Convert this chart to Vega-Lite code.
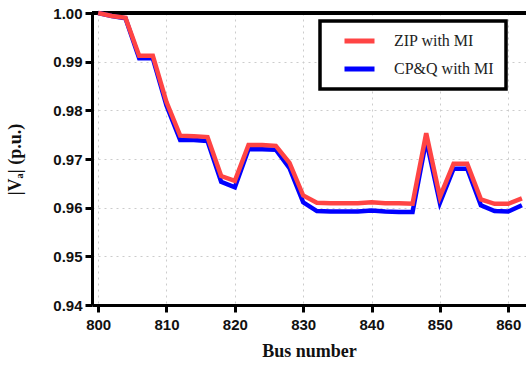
{
  "$schema": "https://vega.github.io/schema/vega-lite/v6.json",
  "width": 434,
  "height": 292,
  "autosize": "none",
  "padding": {"left": 92, "top": 13, "right": 0, "bottom": 60},
  "background": "white",
  "config": {
    "view": {"stroke": null},
    "axis": {
      "domainColor": "black", "domainWidth": 3, "tickColor": "black", "tickWidth": 3, "tickSize": 7,
      "labelFont": "Liberation Sans", "labelFontWeight": "bold", "labelFontSize": 15, "labelColor": "#111",
      "titleFont": "Liberation Serif", "titleFontWeight": "bold", "titleFontSize": 18, "titleColor": "#111",
      "gridColor": "#cccccc", "gridDash": [2, 4], "gridWidth": 1
    }
  },
  "data": {"values": [
    {"bus": 800, "v": 1.0000, "s": "ZIP with MI"},
    {"bus": 802, "v": 0.9994, "s": "ZIP with MI"},
    {"bus": 804, "v": 0.9990, "s": "ZIP with MI"},
    {"bus": 806, "v": 0.9912, "s": "ZIP with MI"},
    {"bus": 808, "v": 0.9912, "s": "ZIP with MI"},
    {"bus": 810, "v": 0.9817, "s": "ZIP with MI"},
    {"bus": 812, "v": 0.9748, "s": "ZIP with MI"},
    {"bus": 814, "v": 0.9747, "s": "ZIP with MI"},
    {"bus": 816, "v": 0.9745, "s": "ZIP with MI"},
    {"bus": 818, "v": 0.9665, "s": "ZIP with MI"},
    {"bus": 820, "v": 0.9655, "s": "ZIP with MI"},
    {"bus": 822, "v": 0.9729, "s": "ZIP with MI"},
    {"bus": 824, "v": 0.9729, "s": "ZIP with MI"},
    {"bus": 826, "v": 0.9727, "s": "ZIP with MI"},
    {"bus": 828, "v": 0.9692, "s": "ZIP with MI"},
    {"bus": 830, "v": 0.9625, "s": "ZIP with MI"},
    {"bus": 832, "v": 0.9610, "s": "ZIP with MI"},
    {"bus": 834, "v": 0.9609, "s": "ZIP with MI"},
    {"bus": 836, "v": 0.9609, "s": "ZIP with MI"},
    {"bus": 838, "v": 0.9609, "s": "ZIP with MI"},
    {"bus": 840, "v": 0.9611, "s": "ZIP with MI"},
    {"bus": 842, "v": 0.9609, "s": "ZIP with MI"},
    {"bus": 844, "v": 0.9609, "s": "ZIP with MI"},
    {"bus": 846, "v": 0.9608, "s": "ZIP with MI"},
    {"bus": 848, "v": 0.9753, "s": "ZIP with MI"},
    {"bus": 850, "v": 0.9622, "s": "ZIP with MI"},
    {"bus": 852, "v": 0.9690, "s": "ZIP with MI"},
    {"bus": 854, "v": 0.9690, "s": "ZIP with MI"},
    {"bus": 856, "v": 0.9617, "s": "ZIP with MI"},
    {"bus": 858, "v": 0.9608, "s": "ZIP with MI"},
    {"bus": 860, "v": 0.9608, "s": "ZIP with MI"},
    {"bus": 862, "v": 0.9619, "s": "ZIP with MI"},
    {"bus": 800, "v": 1.0000, "s": "CP&Q with MI"},
    {"bus": 802, "v": 0.9994, "s": "CP&Q with MI"},
    {"bus": 804, "v": 0.9989, "s": "CP&Q with MI"},
    {"bus": 806, "v": 0.9907, "s": "CP&Q with MI"},
    {"bus": 808, "v": 0.9907, "s": "CP&Q with MI"},
    {"bus": 810, "v": 0.9810, "s": "CP&Q with MI"},
    {"bus": 812, "v": 0.9739, "s": "CP&Q with MI"},
    {"bus": 814, "v": 0.9739, "s": "CP&Q with MI"},
    {"bus": 816, "v": 0.9737, "s": "CP&Q with MI"},
    {"bus": 818, "v": 0.9653, "s": "CP&Q with MI"},
    {"bus": 820, "v": 0.9642, "s": "CP&Q with MI"},
    {"bus": 822, "v": 0.9720, "s": "CP&Q with MI"},
    {"bus": 824, "v": 0.9720, "s": "CP&Q with MI"},
    {"bus": 826, "v": 0.9719, "s": "CP&Q with MI"},
    {"bus": 828, "v": 0.9681, "s": "CP&Q with MI"},
    {"bus": 830, "v": 0.9611, "s": "CP&Q with MI"},
    {"bus": 832, "v": 0.9593, "s": "CP&Q with MI"},
    {"bus": 834, "v": 0.9592, "s": "CP&Q with MI"},
    {"bus": 836, "v": 0.9592, "s": "CP&Q with MI"},
    {"bus": 838, "v": 0.9592, "s": "CP&Q with MI"},
    {"bus": 840, "v": 0.9594, "s": "CP&Q with MI"},
    {"bus": 842, "v": 0.9592, "s": "CP&Q with MI"},
    {"bus": 844, "v": 0.9591, "s": "CP&Q with MI"},
    {"bus": 846, "v": 0.9591, "s": "CP&Q with MI"},
    {"bus": 848, "v": 0.9739, "s": "CP&Q with MI"},
    {"bus": 850, "v": 0.9610, "s": "CP&Q with MI"},
    {"bus": 852, "v": 0.9680, "s": "CP&Q with MI"},
    {"bus": 854, "v": 0.9680, "s": "CP&Q with MI"},
    {"bus": 856, "v": 0.9605, "s": "CP&Q with MI"},
    {"bus": 858, "v": 0.9593, "s": "CP&Q with MI"},
    {"bus": 860, "v": 0.9592, "s": "CP&Q with MI"},
    {"bus": 862, "v": 0.9605, "s": "CP&Q with MI"}
  ]},
  "encoding": {
    "x": {"field": "bus", "type": "quantitative", "title": "Bus number",
      "scale": {"domain": [799.1, 862.6], "nice": false, "zero": false},
      "axis": {"values": [800, 810, 820, 830, 840, 850, 860], "titlePadding": 10, "labelPadding": 5}},
    "y": {"field": "v", "type": "quantitative", "title": "|Vₐ| (p.u.)",
      "scale": {"domain": [0.94, 1.0], "nice": false, "zero": false},
      "axis": {"values": [0.94, 0.95, 0.96, 0.97, 0.98, 0.99, 1.0], "format": ".2f", "titlePadding": 28, "labelPadding": 3}},
    "color": {"field": "s", "type": "nominal",
      "scale": {"domain": ["ZIP with MI", "CP&Q with MI"], "range": ["#ff4444", "#0000ff"]},
      "legend": {"title": null, "orient": "none", "legendX": 228, "legendY": 8,
        "strokeColor": "black", "fillColor": "white", "padding": 12,
        "symbolType": "stroke", "symbolSize": 900, "symbolStrokeWidth": 5, "symbolOffset": 10,
        "clipHeight": 16,
        "labelFont": "Liberation Serif", "labelFontSize": 16, "labelColor": "#222", "labelOffset": 17,
        "rowPadding": 12,
        "encode": {"legend": {"update": {"strokeWidth": {"value": 3.5}}}}}}
  },
  "layer": [
    {"mark": {"type": "rule", "color": "black", "strokeWidth": 3},
     "encoding": {"y": {"datum": 1.0}, "x": null, "color": null}},
    {"transform": [{"filter": "datum.s === 'CP&Q with MI'"}],
     "mark": {"type": "line", "strokeWidth": 4.5}},
    {"transform": [{"filter": "datum.s === 'ZIP with MI'"}],
     "mark": {"type": "line", "strokeWidth": 4.5}}
  ]
}
